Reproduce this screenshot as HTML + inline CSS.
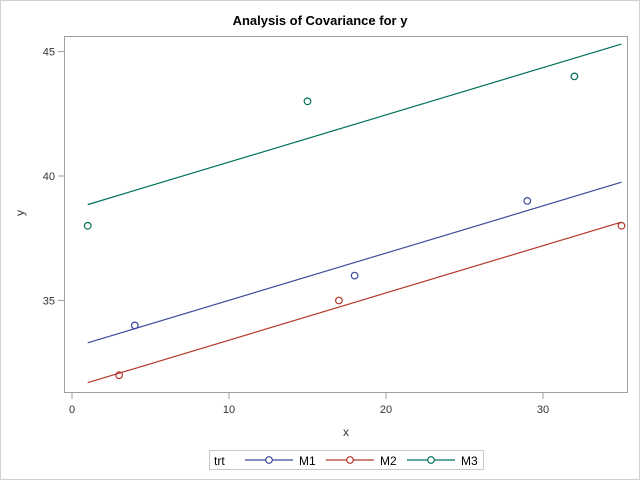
<!DOCTYPE html>
<html><head><meta charset="utf-8"><style>
body{margin:0;background:#fff;}
svg{display:block;font-family:"Liberation Sans",Arial,sans-serif;}
</style></head><body>
<svg width="640" height="480">
<rect x="0.5" y="0.5" width="639" height="479" fill="#fff" stroke="#d0d0d0"/>
<text x="320" y="25" text-anchor="middle" font-size="13" font-weight="bold" fill="#000">Analysis of Covariance for y</text>
<rect x="64.5" y="36.5" width="563" height="356" fill="none" stroke="#a0a0a0"/>
<g id="axes"></g>
<g id="marks"></g>
<text x="346" y="436" text-anchor="middle" font-size="12" fill="#333">x</text>
<text x="24" y="213" text-anchor="middle" font-size="12" fill="#333" transform="rotate(-90 24 213)">y</text>
<g>
<rect x="209.5" y="450.5" width="274" height="19" fill="#fff" stroke="#c8c8c8"/>
<text x="214" y="465" font-size="12" fill="#000">trt</text>
<g id="legend-items"></g>
</g>
</svg>
<script>
const categories = ["M1","M2","M3"];
const colors = ["#3b4a9c","#b2372b","#00705a"];
const pointsX = [[4,18,29],[3,17,35],[1,15,32]];
const pointsY = [[34,36,39],[32,35,38],[38,43,44]];
const lineX = [1,35];
const lineY = [[33.3,39.75],[31.7,38.15],[38.85,45.3]];
const xTicks = [0,10,20,30];
const yTicks = [35,40,45];
const NS="http://www.w3.org/2000/svg";
const sx = v => 72 + v*15.7;
const sy = v => 176 - (v-40)*24.9;
function mk(tag, attrs, parent){const e=document.createElementNS(NS,tag);for(const k in attrs)e.setAttribute(k,attrs[k]);parent.appendChild(e);return e;}
const axes=document.getElementById('axes'), marks=document.getElementById('marks'), leg=document.getElementById('legend-items');
xTicks.forEach(t=>{
  const l=mk('line',{x1:sx(t),x2:sx(t),y1:393,y2:399,stroke:'#a0a0a0'},axes);
  
  
  const tx=mk('text',{x:sx(t),y:413,'text-anchor':'middle','font-size':11,fill:'#333'},axes);
  tx.textContent=t;
  
  
});
yTicks.forEach(t=>{
  const l=mk('line',{x1:58,x2:64,y1:sy(t),y2:sy(t),stroke:'#a0a0a0'},axes);
  
  
  const tx=mk('text',{x:55,y:sy(t)+4,'text-anchor':'end','font-size':11,fill:'#333'},axes);
  tx.textContent=t;
  
  
});
categories.forEach((c,i)=>{
  const ln=mk('line',{x1:sx(lineX[0]),y1:sy(lineY[i][0]),x2:sx(lineX[1]),y2:sy(lineY[i][1]),stroke:colors[i],'stroke-width':1.2},marks);
  
  
  pointsX[i].forEach((x,j)=>{
    const p=mk('circle',{cx:sx(x),cy:sy(pointsY[i][j]),r:3.3,fill:'none',stroke:colors[i],'stroke-width':1.2},marks);
    
    
  });
  const x0=245+i*81;
  const ll=mk('line',{x1:x0,x2:x0+48,y1:460,y2:460,stroke:colors[i],'stroke-width':1.2},leg);
  
  
  const lc=mk('circle',{cx:x0+24,cy:460,r:3.3,fill:'#fff',stroke:colors[i],'stroke-width':1.2},leg);
  
  
  const lt=mk('text',{x:x0+54,y:465,'font-size':12,fill:'#000'},leg);
  lt.textContent=c;
  
  
});
</script>
</body></html>
